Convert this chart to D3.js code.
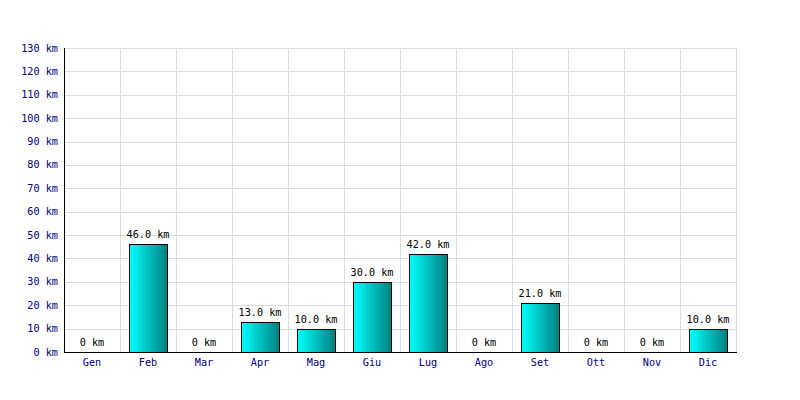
<!DOCTYPE html>
<html><head><meta charset="utf-8">
<script src="https://cdn.jsdelivr.net/npm/d3@7"></script>
<style>body{margin:0;background:#fff}</style>
</head><body>
<svg id="c" width="800" height="400"></svg>
<script>
const months = ["Gen","Feb","Mar","Apr","Mag","Giu","Lug","Ago","Set","Ott","Nov","Dic"];
const values = [0,46,0,13,10,30,42,0,21,0,0,10];
const yTicks = [0,10,20,30,40,50,60,70,80,90,100,110,120,130];

const svg = d3.select("#c");
const m = {left:64, right:64, top:48, bottom:48};
const W = 800, H = 400;
const xb = d3.scaleBand().domain(months).range([m.left, W - m.right]);
const y = d3.scaleLinear().domain([0,130]).range([H - m.bottom, m.top]);
const font = "DejaVu Sans Mono, monospace";
const fs = 10.2;
const barPad = 9;

const defs = svg.append("defs");
const g = defs.append("linearGradient").attr("id","bg").attr("x1","0").attr("x2","1").attr("y1","0").attr("y2","0");
g.append("stop").attr("offset","0").attr("stop-color","#00ffff");
g.append("stop").attr("offset","1").attr("stop-color","#008080");

// grid
svg.append("g").selectAll("line").data(yTicks).join("line")
  .attr("x1", m.left).attr("x2", W - m.right + 1)
  .attr("y1", d => Math.round(y(d)) + 0.5).attr("y2", d => Math.round(y(d)) + 0.5)
  .attr("stroke", "#dcdcdc");
svg.append("g").selectAll("line").data(months).join("line")
  .attr("x1", d => xb(d) + xb.bandwidth() + 0.5)
  .attr("x2", d => xb(d) + xb.bandwidth() + 0.5)
  .attr("y1", m.top).attr("y2", H - m.bottom)
  .attr("stroke", "#dcdcdc");

// bars
svg.append("g").selectAll("rect").data(values.map((v,i)=>({v, m:months[i]})).filter(d=>d.v>0)).join("rect")
  .attr("x", d => xb(d.m) + barPad + 0.5)
  .attr("width", xb.bandwidth() - 2*barPad)
  .attr("y", d => Math.round(y(d.v)) + 0.5)
  .attr("height", d => Math.round(y(0)) - Math.round(y(d.v)))
  .attr("fill", "url(#bg)").attr("stroke", "#000").attr("stroke-width", 1);

// value labels
svg.append("g").selectAll("text").data(values.map((v,i)=>({v, m:months[i]}))).join("text")
  .attr("x", d => xb(d.m) + xb.bandwidth()/2)
  .attr("y", d => y(d.v) - 6)
  .attr("text-anchor", "middle")
  .attr("font-family", font).attr("font-size", fs).attr("fill", "#000")
  .text(d => d.v === 0 ? "0 km" : d.v.toFixed(1) + " km");

// axes lines
svg.append("line").attr("x1", m.left + 0.5).attr("x2", m.left + 0.5).attr("y1", m.top).attr("y2", H - m.bottom + 1).attr("stroke", "#000");
svg.append("line").attr("x1", m.left).attr("x2", W - m.right + 1).attr("y1", H - m.bottom + 0.5).attr("y2", H - m.bottom + 0.5).attr("stroke", "#000");

// y tick labels
svg.append("g").selectAll("text").data(yTicks).join("text")
  .attr("x", m.left - 6).attr("y", d => y(d)).attr("dy", "0.35em")
  .attr("text-anchor", "end")
  .attr("font-family", font).attr("font-size", fs).attr("fill", "#000080")
  .text(d => d + " km");

// x tick labels
svg.append("g").selectAll("text").data(months).join("text")
  .attr("x", d => xb(d) + xb.bandwidth()/2).attr("y", H - m.bottom + 14)
  .attr("text-anchor", "middle")
  .attr("font-family", font).attr("font-size", fs).attr("fill", "#000080")
  .text(d => d);
</script>
</body></html>
